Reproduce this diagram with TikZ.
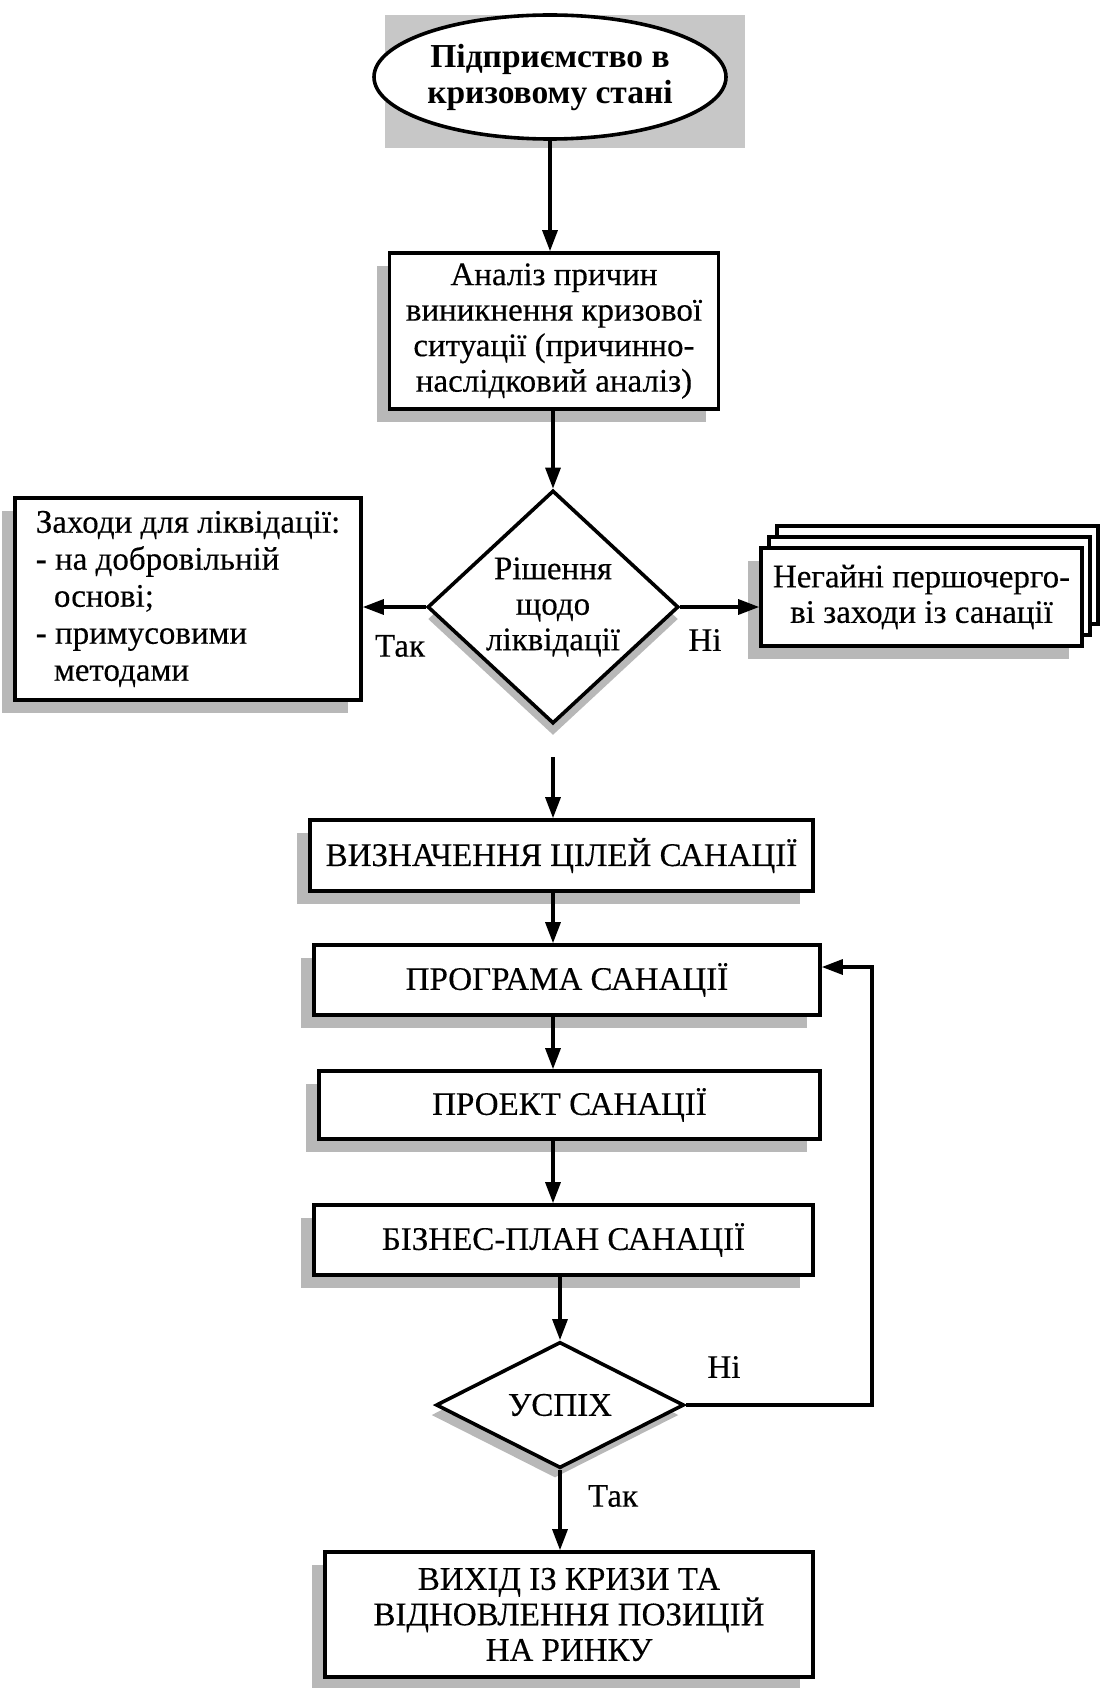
\documentclass[tikz,border=0pt]{standalone}
\usepackage{fontspec}
\setmainfont{Liberation Serif}[UprightFeatures={FakeBold=0.3}]
\usetikzlibrary{shapes.geometric,arrows.meta,shadows,calc}
\begin{document}
\begin{tikzpicture}[x=1pt,y=-1pt,
  txt/.style={font=\fontsize{33}{35.5}\selectfont, align=center},
  shad/.style={drop shadow={shadow xshift=-13pt, shadow yshift=-13pt, fill=black!28, opacity=1}},
  box/.style={draw, line width=3.6pt, fill=white, inner sep=0pt, txt, shad},
  plain/.style={draw, line width=3.6pt, fill=white, inner sep=0pt},
  arr/.style={line width=3.2pt, -{Triangle[length=21pt,width=15pt]}},
  lbl/.style={font=\fontsize{33}{35}\selectfont}
]
\useasboundingbox (0,0) rectangle (1101,1688);

% start ellipse with rectangular shadow
\fill[black!22] (385,15) rectangle (745,148);
\node[ellipse, draw, line width=3.6pt, fill=white, inner sep=0pt,
  minimum width=352pt, minimum height=124pt, align=center,
  font=\bfseries\fontsize{33.5}{36}\selectfont] (start) at (550,77)
  {Підприємство в\\кризовому стані};

\node[box, minimum width=329pt, minimum height=156pt] (anal) at (554,331)
  {Аналіз причин\\виникнення кризової\\ситуації (причинно-\\наслідковий аналіз)};

\node[diamond, draw, line width=3.6pt, fill=white, inner sep=0pt,
  minimum width=251pt, minimum height=233pt, txt,
  drop shadow={shadow xshift=0pt, shadow yshift=-12pt, fill=black!28, opacity=1}]
  (d1) at (553,607) {Рішення\\щодо\\ліквідації};

\node[box, minimum width=346pt, minimum height=202pt, align=left,
  font=\fontsize{33}{37}\selectfont] (liq) at (188,599)
  {Заходи для ліквідації:\\- на добровільній\\\hspace*{0.55em}основі;\\- примусовими\\\hspace*{0.55em}методами};

% stacked boxes
\node[plain, minimum width=321pt, minimum height=98pt] (nb3) at (937.5,575) {};
\node[plain, minimum width=321pt, minimum height=98pt] (nb2) at (929.5,586) {};
\node[box, minimum width=321pt, minimum height=98pt] (nb) at (921.5,597)
  {Негайні першочерго-\\ві заходи із санації};

\node[box, minimum width=503pt, minimum height=71pt] (vis) at (561.5,855.5)
  {ВИЗНАЧЕННЯ ЦІЛЕЙ САНАЦІЇ};
\node[box, minimum width=506pt, minimum height=70pt] (prog) at (567,980)
  {ПРОГРАМА САНАЦІЇ};
\node[box, minimum width=501pt, minimum height=68pt] (proj) at (569.5,1105)
  {ПРОЕКТ САНАЦІЇ};
\node[box, minimum width=499pt, minimum height=70pt] (biz) at (563.5,1240)
  {БІЗНЕС-ПЛАН САНАЦІЇ};

\node[diamond, draw, line width=3.6pt, fill=white, inner sep=0pt,
  minimum width=248pt, minimum height=124pt, txt,
  drop shadow={shadow xshift=-5pt, shadow yshift=-10pt, fill=black!28, opacity=1}]
  (usp) at (560,1405) {УСПІХ};

\node[box, minimum width=488pt, minimum height=125pt] (fin) at (569,1614.5)
  {ВИХІД ІЗ КРИЗИ ТА\\ВІДНОВЛЕННЯ ПОЗИЦІЙ\\НА РИНКУ};

% labels
\node[lbl] (tak1) at (400,646) {Так};
\node[lbl] (ni1) at (705,640) {Ні};
\node[lbl] (ni2) at (724,1367) {Ні};
\node[lbl] (tak2) at (613,1496) {Так};

% connectors
\coordinate (lp) at (872,1405);
\draw[arr] (start.south) -- (anal.north -| start.south);
\draw[arr] (anal.south -| d1.north) -- (d1.north);
\draw[arr] (d1.west) -- (d1.west -| liq.east);
\draw[arr] (d1.east) -- (d1.east -| nb.west);
\draw[arr, shorten <=32pt] (d1.south) -- (d1.south |- vis.north);
\draw[arr] (vis.south -| d1.south) -- (prog.north -| d1.south);
\draw[arr] (prog.south -| d1.south) -- (proj.north -| d1.south);
\draw[arr] (proj.south -| d1.south) -- (biz.north -| d1.south);
\draw[arr] (biz.south -| usp.north) -- (usp.north);
\draw[arr] (usp.south) -- (usp.south |- fin.north);
\draw[arr] (usp.east) -- (usp.east -| lp) |- ([yshift=13pt]prog.east);
\end{tikzpicture}
\end{document}
